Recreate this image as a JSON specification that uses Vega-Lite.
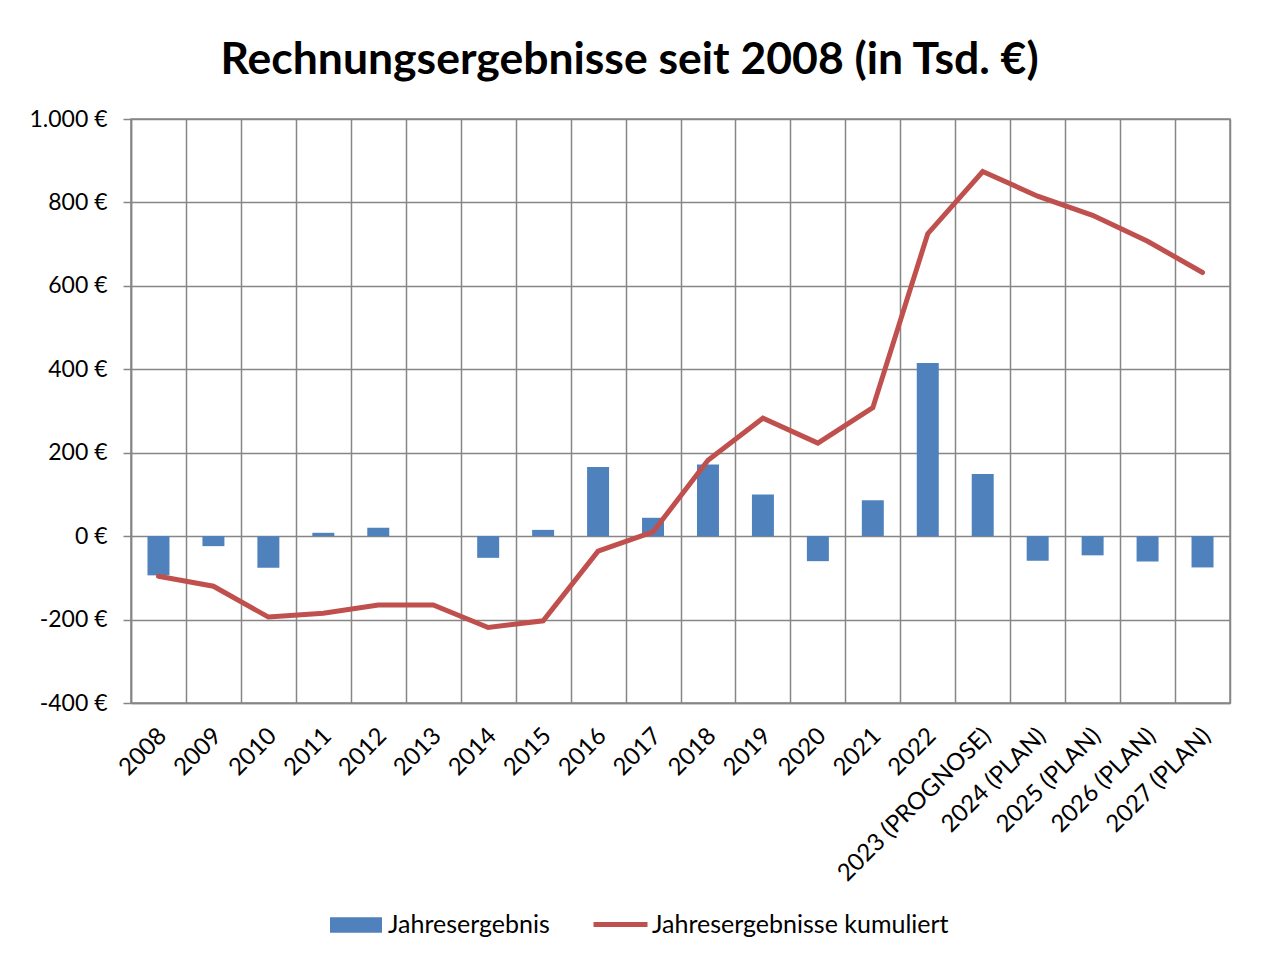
{
  "$schema": "https://vega.github.io/schema/vega-lite/v6.json",
  "autosize": "none",
  "width": 1099,
  "height": 584,
  "padding": {"left": 131, "top": 119, "right": 34, "bottom": 254},
  "background": "white",
  "title": {
    "text": "Rechnungsergebnisse seit 2008 (in Tsd. €)",
    "font": "Lato",
    "fontSize": 44.5,
    "fontWeight": "bold",
    "color": "#000000",
    "anchor": "middle",
    "frame": "bounds",
    "offset": 25
  },
  "data": {
    "values": [
      {"jahr": "2008", "ergebnis": -94, "kumuliert": -96},
      {"jahr": "2009", "ergebnis": -24, "kumuliert": -120},
      {"jahr": "2010", "ergebnis": -76, "kumuliert": -194},
      {"jahr": "2011", "ergebnis": 8, "kumuliert": -185},
      {"jahr": "2012", "ergebnis": 20, "kumuliert": -165},
      {"jahr": "2013", "ergebnis": 0, "kumuliert": -165},
      {"jahr": "2014", "ergebnis": -52, "kumuliert": -219},
      {"jahr": "2015", "ergebnis": 15, "kumuliert": -203},
      {"jahr": "2016", "ergebnis": 166, "kumuliert": -36},
      {"jahr": "2017", "ergebnis": 44, "kumuliert": 10},
      {"jahr": "2018", "ergebnis": 172, "kumuliert": 182},
      {"jahr": "2019", "ergebnis": 100, "kumuliert": 283},
      {"jahr": "2020", "ergebnis": -60, "kumuliert": 223},
      {"jahr": "2021", "ergebnis": 86, "kumuliert": 308},
      {"jahr": "2022", "ergebnis": 415, "kumuliert": 725},
      {"jahr": "2023 (PROGNOSE)", "ergebnis": 149, "kumuliert": 874},
      {"jahr": "2024 (PLAN)", "ergebnis": -59, "kumuliert": 815},
      {"jahr": "2025 (PLAN)", "ergebnis": -46, "kumuliert": 769},
      {"jahr": "2026 (PLAN)", "ergebnis": -61, "kumuliert": 707},
      {"jahr": "2027 (PLAN)", "ergebnis": -75, "kumuliert": 632}
    ]
  },
  "encoding": {
    "x": {
      "field": "jahr",
      "type": "nominal",
      "sort": null,
      "scale": {"paddingInner": 0, "paddingOuter": 0},
      "axis": {
        "title": null,
        "grid": true,
        "tickBand": "extent",
        "gridColor": "#868686",
        "gridWidth": 1.5,
        "ticks": false,
        "domainColor": "#868686",
        "domainWidth": 1.5,
        "labelAngle": -45,
        "labelAlign": "right",
        "labelBaseline": "middle",
        "labelFont": "Lato",
        "labelFontSize": 24,
        "labelColor": "#000000",
        "labelPadding": 29,
        "labelOffset": 4,
        "labelLimit": 0,
        "labelOverlap": false
      }
    }
  },
  "layer": [
    {
      "mark": {"type": "bar", "width": {"band": 0.4}},
      "encoding": {
        "y": {
          "field": "ergebnis",
          "type": "quantitative",
          "scale": {"domain": [-400, 1000], "nice": false},
          "axis": {
            "title": null,
            "values": [-400, -200, 0, 200, 400, 600, 800, 1000],
            "grid": true,
            "gridColor": "#868686",
            "gridWidth": 1.5,
            "tickColor": "#868686",
            "tickSize": 8,
            "tickWidth": 1.5,
            "domainColor": "#868686",
            "domainWidth": 1.5,
            "labelExpr": "replace(replace(format(datum.value, ',.0f'), ',', '.'), '−', '-') + ' €'",
            "labelFont": "Lato",
            "labelFontSize": 23,
            "labelColor": "#000000",
            "labelPadding": 16
          }
        },
        "fill": {
          "datum": "Jahresergebnis",
          "scale": {"range": ["#4F81BD"]},
          "legend": {
            "orient": "none",
            "legendX": 199,
            "legendY": 780,
            "title": null,
            "padding": 0,
            "symbolType": "M-1,-0.3H1V0.3H-1Z",
            "symbolSize": 2704,
            "symbolStrokeWidth": 0,
            "labelFont": "Lato",
            "labelFontSize": 25,
            "labelColor": "#000000",
            "labelOffset": 6,
            "labelLimit": 0
          }
        }
      }
    },
    {
      "mark": {"type": "line", "strokeWidth": 5, "strokeCap": "round"},
      "encoding": {
        "y": {"field": "kumuliert", "type": "quantitative"},
        "stroke": {
          "datum": "Jahresergebnisse kumuliert",
          "scale": {"range": ["#C0504D"]},
          "legend": {
            "orient": "none",
            "legendX": 460,
            "legendY": 776,
            "title": null,
            "padding": 0,
            "symbolType": "stroke",
            "symbolSize": 2916,
            "symbolStrokeWidth": 5,
            "labelFont": "Lato",
            "labelFontSize": 25,
            "labelColor": "#000000",
            "labelOffset": 2,
            "labelLimit": 0
          }
        }
      }
    }
  ],
  "config": {
    "view": {"stroke": "#868686", "strokeWidth": 1.5}
  }
}
